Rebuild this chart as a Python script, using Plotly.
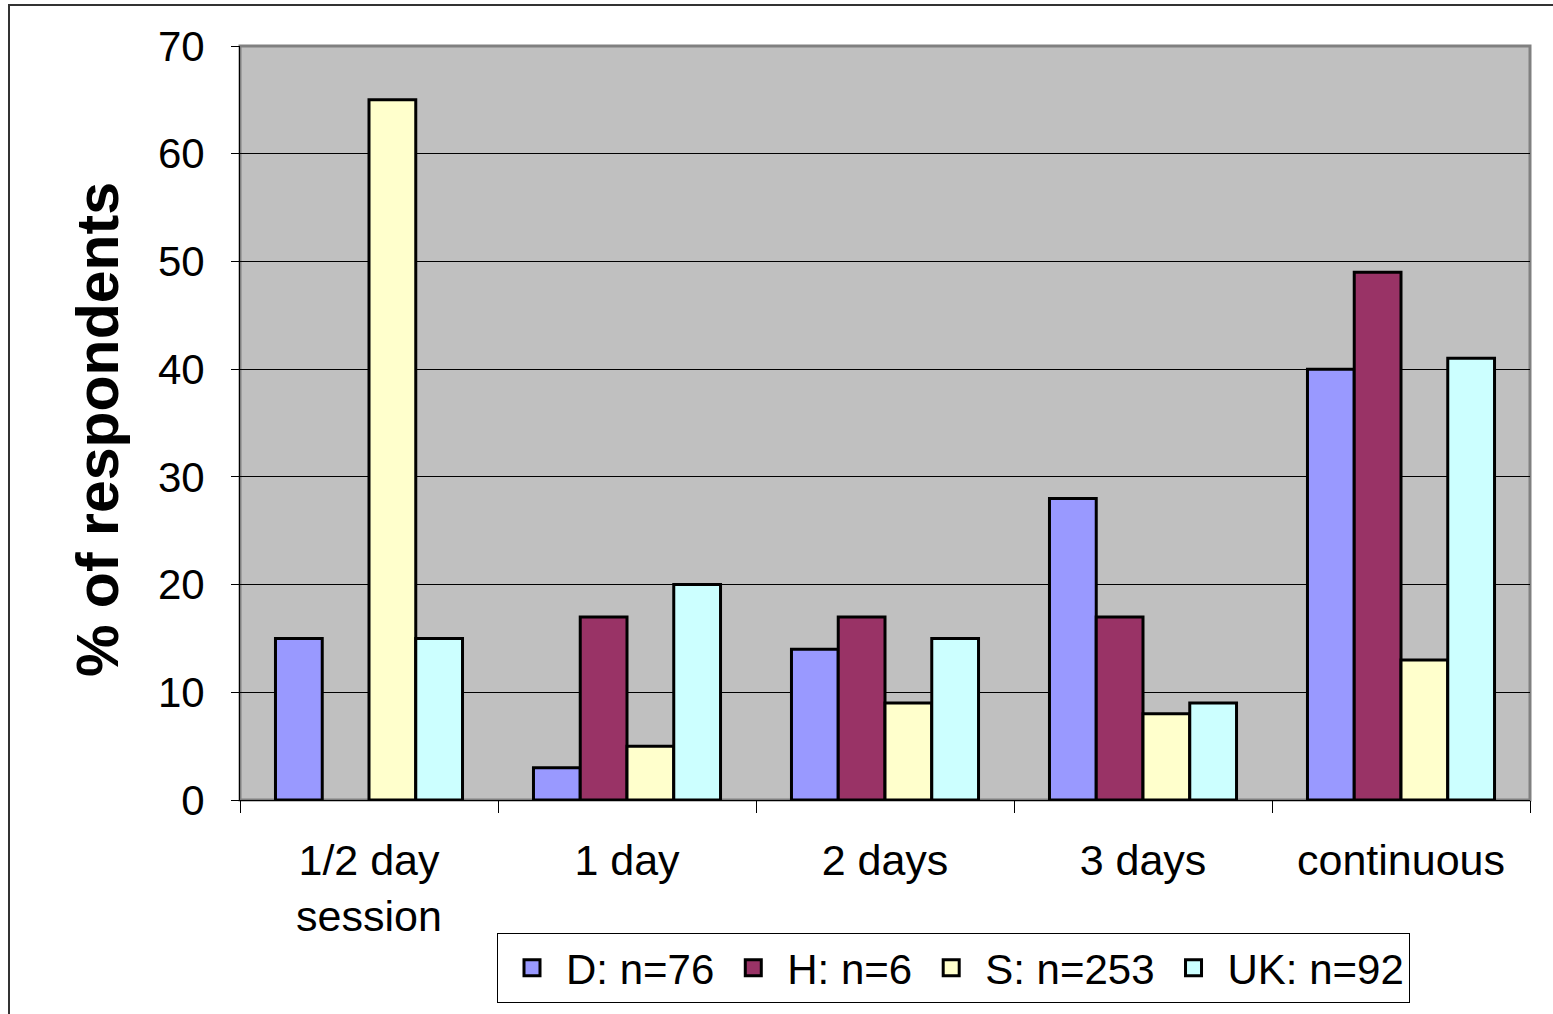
import plotly.graph_objects as go

categories = ["1/2 day<br>session", "1 day", "2 days", "3 days", "continuous"]
series_names = ["D: n=76", "H: n=6", "S: n=253", "UK: n=92"]
d_values = [15, 3, 14, 28, 40]
h_values = [None, 17, 17, 17, 49]
s_values = [65, 5, 9, 8, 13]
uk_values = [15, 20, 15, 9, 41]
y_ticks = [0, 10, 20, 30, 40, 50, 60, 70]
colors = ["#9999FF", "#993366", "#FFFFCC", "#CCFFFF"]

FONT = "Liberation Sans, Arial, sans-serif"
W, H = 1553, 1014
L, T = 240, 46
R = W - 1530
B = H - 800
pw, ph = W - L - R, H - T - B

def px_x(x):
    return (x - L) / pw

def px_y(y):
    return (H - B - y) / ph

fig = go.Figure()
all_values = [d_values, h_values, s_values, uk_values]
for name, vals, col in zip(series_names, all_values, colors):
    fig.add_trace(go.Bar(
        x=categories, y=vals, name=name, showlegend=False,
        marker=dict(color=col, line=dict(color="black", width=3)),
    ))
for name, col in zip(series_names, colors):
    fig.add_trace(go.Scatter(
        x=[None], y=[None], mode="markers", name=name,
        marker=dict(symbol="square", size=16, color=col, line=dict(color="black", width=3)),
    ))

fig.update_layout(
    width=W, height=H,
    margin=dict(l=L, r=R, t=T, b=B, autoexpand=False),
    paper_bgcolor="white",
    plot_bgcolor="#C0C0C0",
    barmode="group", bargap=0.275, bargroupgap=0,
    font=dict(family=FONT, color="black", size=42),
    showlegend=True,
    legend=dict(
        orientation="h", x=px_x(497), y=px_y(933), xanchor="left", yanchor="top",
        bgcolor="white", bordercolor="black", borderwidth=1,
        font=dict(size=42, family=FONT), itemwidth=58,
        traceorder="normal",
    ),
    xaxis=dict(
        type="category", tickson="boundaries", ticks="outside", ticklen=12,
        tickcolor="black", tickwidth=1, showline=True, linecolor="black", linewidth=1,
        showgrid=False, tickfont=dict(size=43), ticklabelstandoff=22,
        automargin=False,
    ),
    yaxis=dict(
        range=[0, 70], tickvals=y_ticks, ticks="outside", ticklen=8,
        tickcolor="black", tickwidth=1, showline=True, linecolor="black", linewidth=1,
        showgrid=True, gridcolor="black", gridwidth=1, zeroline=False,
        tickfont=dict(size=42), ticklabelstandoff=18, automargin=False,
    ),
    shapes=[
        dict(type="rect", xref="paper", yref="paper", x0=0, x1=1, y0=0, y1=1,
             line=dict(color="#808080", width=3), layer="below"),
        dict(type="rect", xref="paper", yref="paper", x0=px_x(9), x1=px_x(1600),
             y0=px_y(5), y1=px_y(1100), line=dict(color="#333333", width=2),
             fillcolor="rgba(0,0,0,0)"),
    ],
    annotations=[
        dict(text="<b>% of respondents</b>", textangle=-90, xref="paper", yref="paper",
             x=px_x(98), y=px_y(430), showarrow=False, font=dict(size=59, family=FONT),
             xanchor="center", yanchor="middle"),
    ],
)

fig.write_html(
    "out.html",
    config={"displayModeBar": False},
    post_script="document.body.style.margin='0';document.body.style.overflow='hidden';",
)
